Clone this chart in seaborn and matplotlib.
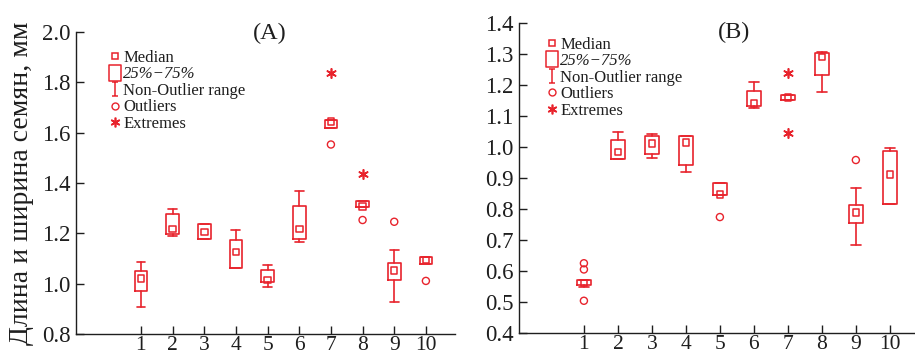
import numpy as np
import pandas as pd
import matplotlib
matplotlib.use("Agg")
import matplotlib.pyplot as plt
import seaborn as sns
from matplotlib.lines import Line2D
from matplotlib.path import Path

categories = [1, 2, 3, 4, 5, 6, 7, 8, 9, 10]

# Panel A
a_median = [1.020, 1.218, 1.206, 1.125, 1.015, 1.218, 1.644, 1.307, 1.052, 1.094]
a_q1 = [0.972, 1.196, 1.179, 1.061, 1.007, 1.177, 1.617, 1.303, 1.015, 1.079]
a_q3 = [1.052, 1.278, 1.237, 1.173, 1.053, 1.307, 1.650, 1.327, 1.083, 1.106]
a_whislo = [0.909, 1.189, 1.177, 1.061, 0.988, 1.164, 1.617, 1.303, 0.926, 1.079]
a_whishi = [1.087, 1.297, 1.239, 1.213, 1.074, 1.369, 1.650, 1.327, 1.132, 1.106]
a_out_cat = [7, 8, 9, 10]
a_out_val = [1.553, 1.253, 1.246, 1.011]
a_ext_cat = [7, 8]
a_ext_val = [1.836, 1.436]

# Panel B
b_median = [0.562, 0.984, 1.012, 1.014, 0.846, 1.141, 1.159, 1.291, 0.789, 0.912]
b_q1 = [0.554, 0.962, 0.977, 0.942, 0.844, 1.132, 1.152, 1.233, 0.756, 0.816]
b_q3 = [0.571, 1.023, 1.036, 1.037, 0.885, 1.182, 1.167, 1.302, 0.814, 0.988]
b_whislo = [0.547, 0.960, 0.965, 0.918, 0.844, 1.125, 1.152, 1.177, 0.683, 0.816]
b_whishi = [0.571, 1.049, 1.043, 1.037, 0.885, 1.211, 1.167, 1.307, 0.869, 0.998]
b_out_cat = [1, 1, 1, 5, 9]
b_out_val = [0.625, 0.605, 0.504, 0.774, 0.958]
b_ext_cat = [7, 7]
b_ext_val = [1.238, 1.044]

RED = "#e8232c"
INK = "#1e1e1e"

sns.set_theme(style="white")
plt.rcParams["font.family"] = ["Liberation Serif", "DejaVu Serif"]

fig = plt.figure(figsize=(9.15, 3.62), dpi=100)
axA = fig.add_axes([0.0831, 0.0773, 0.4142, 0.8343])
axB = fig.add_axes([0.5672, 0.0801, 0.4328, 0.8564])

ast = (6, 2, 0)


def draw(ax, med, q1, q3, wlo, whi, oc, ov, ec, ev):
    stats = []
    for i in range(len(categories)):
        stats.append(dict(med=med[i], q1=q1[i], q3=q3[i], whislo=wlo[i],
                          whishi=whi[i], fliers=[]))
    ax.bxp(stats, positions=categories, widths=0.4, capwidths=0.28,
           showfliers=False, patch_artist=False,
           boxprops=dict(color=RED, linewidth=1.2),
           whiskerprops=dict(color=RED, linewidth=1.2),
           capprops=dict(color=RED, linewidth=1.2),
           medianprops=dict(linewidth=0))
    dmed = pd.DataFrame({"cat": categories, "val": med})
    sns.scatterplot(data=dmed, x="cat", y="val", marker="s", s=22,
                    color=RED, facecolors="none", edgecolor=RED,
                    linewidth=1.1, ax=ax, zorder=5)
    dout = pd.DataFrame({"cat": oc, "val": ov})
    sns.scatterplot(data=dout, x="cat", y="val", marker="o", s=26,
                    color=RED, facecolors="none", edgecolor=RED,
                    linewidth=1.0, ax=ax, zorder=5)
    dext = pd.DataFrame({"cat": ec, "val": ev})
    sns.scatterplot(data=dext, x="cat", y="val", marker=ast, s=45,
                    color=RED, linewidth=1.2, ax=ax, zorder=5)


draw(axA, a_median, a_q1, a_q3, a_whislo, a_whishi, a_out_cat, a_out_val,
     a_ext_cat, a_ext_val)
draw(axB, b_median, b_q1, b_q3, b_whislo, b_whishi, b_out_cat, b_out_val,
     b_ext_cat, b_ext_val)

axA.set_xlim(-1.05, 10.92)
axA.set_ylim(0.8, 2.0)
axA.set_yticks(np.arange(0.8, 2.01, 0.2))
axB.set_xlim(-0.91, 10.74)
axB.set_ylim(0.4, 1.4)
axB.set_yticks(np.arange(0.4, 1.401, 0.1))

for ax in (axA, axB):
    ax.set_xticks(categories)
    ax.set_xticklabels([str(c) for c in categories])
    ax.yaxis.set_major_formatter(matplotlib.ticker.FormatStrFormatter("%.1f"))
    for s in ("top", "right"):
        ax.spines[s].set_visible(False)
    for s in ("left", "bottom"):
        ax.spines[s].set_color(INK)
        ax.spines[s].set_linewidth(1.0)
    ax.tick_params(axis="both", direction="in", length=6, width=1.0,
                   color=INK, labelsize=16.5, labelcolor=INK,
                   left=True, bottom=True)
    ax.tick_params(axis="x", pad=1.5, labelsize=15.5)
    ax.tick_params(axis="y", pad=4)
    ax.set_xlabel("")
    ax.set_ylabel("")
    ax.set_facecolor("none")

axA.set_ylabel("Длина и ширина семян, мм", fontsize=20, color=INK)
axA.yaxis.set_label_coords(-0.11, 0.5)

axA.text(0.512, 0.995, "(A)", transform=axA.transAxes, ha="center",
         va="center", fontsize=17.5, color=INK)
axB.text(0.543, 0.968, "(B)", transform=axB.transAxes, ha="center",
         va="center", fontsize=17.5, color=INK)

# legend handles
ibeam = Path([(-0.5, -1), (0.5, -1), (0, -1), (0, 1), (-0.5, 1), (0.5, 1)],
             [Path.MOVETO, Path.LINETO, Path.MOVETO, Path.LINETO,
              Path.MOVETO, Path.LINETO])
rect = Path([(-0.75, -1), (0.75, -1), (0.75, 1), (-0.75, 1), (-0.75, -1)],
            [Path.MOVETO, Path.LINETO, Path.LINETO, Path.LINETO,
             Path.CLOSEPOLY])
handles = [
    Line2D([], [], linestyle="none", marker="s", markersize=5,
           markerfacecolor="none", markeredgecolor=RED, markeredgewidth=1.1),
    Line2D([], [], linestyle="none", marker=rect, markersize=11,
           markerfacecolor="none", markeredgecolor=RED, markeredgewidth=1.1),
    Line2D([], [], linestyle="none", marker=ibeam, markersize=10,
           markerfacecolor="none", markeredgecolor=RED, markeredgewidth=1.1),
    Line2D([], [], linestyle="none", marker="o", markersize=5,
           markerfacecolor="none", markeredgecolor=RED, markeredgewidth=1.0),
    Line2D([], [], linestyle="none", marker=ast, markersize=7,
           markeredgecolor=RED, markeredgewidth=1.2),
]
labels = ["Median", "25%\u221275%", "Non-Outlier range", "Outliers", "Extremes"]

for ax, (x, y) in ((axA, (0.119, 0.862)), (axB, (0.597, 0.899))):
    leg = fig.legend(handles, labels, loc="upper left",
                     bbox_to_anchor=(x, y), bbox_transform=fig.transFigure,
                     frameon=False, fontsize=12, handlelength=0.7,
                     handletextpad=0.15, labelspacing=0.03, borderpad=0,
                     borderaxespad=0)
    for t in leg.get_texts():
        t.set_color(INK)
    for t in leg.get_texts()[1:2]:
        t.set_fontstyle("italic")

fig.savefig("out.png", dpi=100)
